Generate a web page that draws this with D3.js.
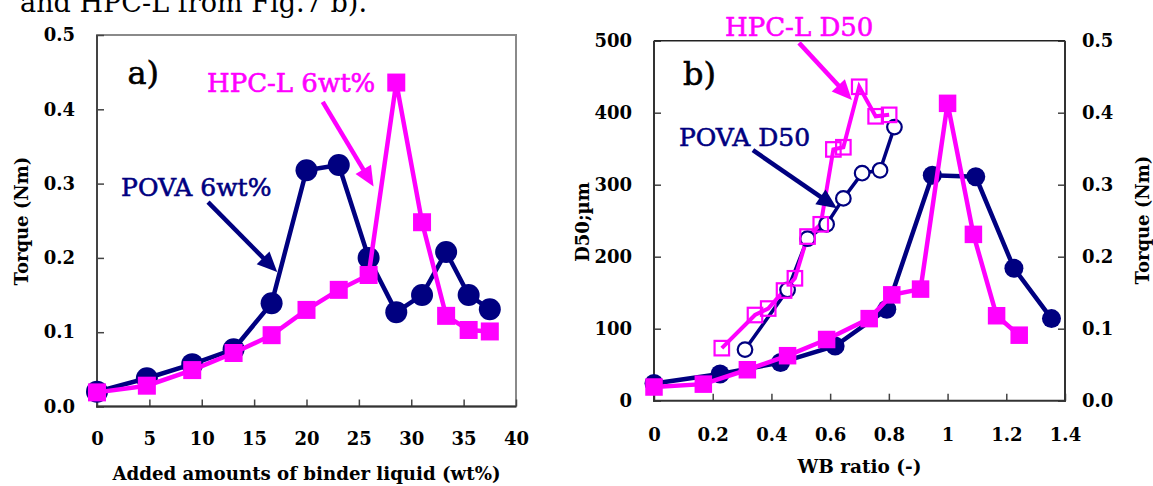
<!DOCTYPE html>
<html><head><meta charset="utf-8">
<script src="https://cdn.jsdelivr.net/npm/d3@7"></script>
<style>
html,body{margin:0;padding:0;background:#fff;}
svg{display:block;}
text{font-family:"DejaVu Serif",serif;}
</style></head>
<body>
<svg id="c" width="1153" height="486"></svg>
<script>
// ---------- data ----------
// Panel a: torque vs added amount of binder liquid
const aAdded = [0, 4.76, 9.09, 13.04, 16.67, 20, 23.08, 25.93, 28.57, 31.03, 33.33, 35.48, 37.5];
const aTorquePOVA = [0.020, 0.038, 0.057, 0.077, 0.139, 0.318, 0.325, 0.200, 0.127, 0.150, 0.208, 0.150, 0.131];
const aTorqueHPCL = [0.019, 0.028, 0.049, 0.072, 0.096, 0.130, 0.157, 0.177, 0.436, 0.248, 0.122, 0.103, 0.101];
const aXTicks = [0, 5, 10, 15, 20, 25, 30, 35, 40];
const aYTicks = [0, 0.1, 0.2, 0.3, 0.4, 0.5];

// Panel b: torque & D50 vs WB ratio
const bWbTorquePOVA = [0, 0.225, 0.431, 0.617, 0.793, 0.948, 1.096, 1.226, 1.354];
const bTorquePOVA = [0.024, 0.037, 0.053, 0.076, 0.127, 0.313, 0.311, 0.184, 0.114];
const bWbTorqueHPCL = [0, 0.168, 0.318, 0.455, 0.588, 0.733, 0.81, 0.908, 1.0, 1.088, 1.167, 1.244];
const bTorqueHPCL = [0.019, 0.023, 0.043, 0.0625, 0.085, 0.114, 0.147, 0.155, 0.413, 0.231, 0.118, 0.091];
const bWbD50POVA = [0.31, 0.455, 0.523, 0.588, 0.645, 0.709, 0.770, 0.819];
const bD50POVA = [71, 154, 225, 245, 281, 316, 320, 380];
const bWbD50HPCL = [0.231, 0.344, 0.389, 0.443, 0.480, 0.523, 0.568, 0.611, 0.645, 0.699, 0.755, 0.801];
const bD50HPCL = [73, 119, 128, 153, 170, 228, 245, 349, 352, 436, 395, 397];
const bXTicks = [0, 0.2, 0.4, 0.6, 0.8, 1, 1.2, 1.4];
const bYLTicks = [0, 100, 200, 300, 400, 500];
const bYRTicks = [0, 0.1, 0.2, 0.3, 0.4, 0.5];

const NAVY = "#000080", MAG = "#ff00ff";

const svg = d3.select("#c");

// cut-off caption line at the top (as in the source image)
svg.append("text").attr("x", 20).attr("y", 12).attr("font-size", 27)
  .attr("textLength", 347).attr("lengthAdjust", "spacingAndGlyphs")
  .text("and HPC-L from Fig.7 b).");

function arrow(g, x1, y1, x2, y2, color) {
  const dx = x2 - x1, dy = y2 - y1, len = Math.hypot(dx, dy);
  const ux = dx / len, uy = dy / len, L = 20, W = 9;
  const bx = x2 - ux * L, by = y2 - uy * L;
  g.append("line").attr("x1", x1).attr("y1", y1).attr("x2", bx + ux * 2).attr("y2", by + uy * 2)
    .attr("stroke", color).attr("stroke-width", 4.5);
  g.append("path").attr("d", `M${x2},${y2}L${bx - uy * W},${by + ux * W}L${bx + uy * W},${by - ux * W}Z`)
    .attr("fill", color);
}

function styleAxis(g, color) {
  g.select(".domain").remove();
  g.selectAll(".tick line").attr("stroke", color).attr("stroke-width", 1.5);
  g.selectAll(".tick text").attr("font-family", "DejaVu Serif").attr("font-weight", "bold")
    .attr("font-size", 18).attr("fill", "#000");
}

function label(g, x, y, size, color, txt) {
  return g.append("text").attr("x", x).attr("y", y).attr("font-size", size).attr("fill", color)
    .attr("stroke", color).attr("stroke-width", 0.6).text(txt);
}

// ================= Panel a =================
{
  const x = d3.scaleLinear().domain([0, 40]).range([97, 516]);
  const y = d3.scaleLinear().domain([0, 0.5]).range([406.5, 35]);
  const g = svg.append("g");

  g.append("rect").attr("x", x(0)).attr("y", y(0.5)).attr("width", x(40) - x(0)).attr("height", y(0) - y(0.5))
    .attr("fill", "none").attr("stroke", "#8a8a8a").attr("stroke-width", 2);

  const ya = g.append("g").attr("transform", `translate(${x(0)},0)`)
    .call(d3.axisLeft(y).tickValues(aYTicks).tickFormat(d3.format(".1f")).tickSize(-7).tickPadding(22));
  styleAxis(ya, "#444");
  const xa = g.append("g").attr("transform", `translate(0,${y(0)})`)
    .call(d3.axisBottom(x).tickValues(aXTicks).tickFormat(d3.format("d")).tickSize(-7).tickPadding(26));
  styleAxis(xa, "#444");
  g.append("line").attr("x1", x(0)).attr("x2", x(0)).attr("y1", y(0.5)).attr("y2", y(0) + 1)
    .attr("stroke", "#444").attr("stroke-width", 2);
  g.append("line").attr("x1", x(0) - 1).attr("x2", x(40)).attr("y1", y(0)).attr("y2", y(0))
    .attr("stroke", "#333").attr("stroke-width", 2);

  g.append("text").attr("transform", `translate(28,221) rotate(-90)`).attr("text-anchor", "middle")
    .attr("font-weight", "bold").attr("font-size", 18).text("Torque (Nm)");
  g.append("text").attr("x", (x(0) + x(40)) / 2).attr("y", 480).attr("text-anchor", "middle")
    .attr("font-weight", "bold").attr("font-size", 18.5)
    .attr("textLength", 388).attr("lengthAdjust", "spacingAndGlyphs")
    .text("Added amounts of binder liquid (wt%)");

  const line = d3.line().x(d => x(d[0])).y(d => y(d[1]));
  const pova = aAdded.map((v, i) => [v, aTorquePOVA[i]]);
  const hpcl = aAdded.map((v, i) => [v, aTorqueHPCL[i]]);

  g.append("path").datum(pova).attr("d", line).attr("fill", "none").attr("stroke", NAVY).attr("stroke-width", 4.5);
  g.selectAll(".pc").data(pova).join("circle").attr("cx", d => x(d[0])).attr("cy", d => y(d[1])).attr("r", 11).attr("fill", NAVY);
  g.append("path").datum(hpcl).attr("d", line).attr("fill", "none").attr("stroke", MAG).attr("stroke-width", 4.5);
  const S = 18;
  g.selectAll(".hs").data(hpcl).join("rect").attr("x", d => x(d[0]) - S / 2).attr("y", d => y(d[1]) - S / 2)
    .attr("width", S).attr("height", S).attr("fill", MAG);

  // annotations
  label(g, x(2.9), y(0.434), 32, "#000", "a)");
  label(g, x(10.5), y(0.423), 26, MAG, "HPC-L 6wt%");
  label(g, x(2.3), y(0.283), 25, NAVY, "POVA 6wt%");
  arrow(g, x(10.6), y(0.275), x(17.2), y(0.181), NAVY);
  arrow(g, x(21.55), y(0.410), x(26.4), y(0.296), MAG);
}

// ================= Panel b =================
{
  const x = d3.scaleLinear().domain([0, 1.4]).range([654, 1065]);
  const yL = d3.scaleLinear().domain([0, 500]).range([400.7, 40.7]);
  const yR = d3.scaleLinear().domain([0, 0.5]).range([400.7, 40.7]);
  const g = svg.append("g");

  const la = g.append("g").attr("transform", `translate(${x(0)},0)`)
    .call(d3.axisLeft(yL).tickValues(bYLTicks).tickFormat(d3.format("d")).tickSize(-7).tickPadding(22));
  styleAxis(la, "#444");
  const ra = g.append("g").attr("transform", `translate(${x(1.4)},0)`)
    .call(d3.axisRight(yR).tickValues(bYRTicks).tickFormat(d3.format(".1f")).tickSize(-7).tickPadding(17));
  styleAxis(ra, "#444");
  const xa = g.append("g").attr("transform", `translate(0,${yL(0)})`)
    .call(d3.axisBottom(x).tickValues(bXTicks).tickFormat(d => d === 0 || d === 1 ? d3.format("d")(d) : d3.format(".1f")(d)).tickSize(-7).tickPadding(28));
  styleAxis(xa, "#444");
  g.append("line").attr("x1", x(0)).attr("x2", x(1.4)).attr("y1", yL(500)).attr("y2", yL(500)).attr("stroke", "#222").attr("stroke-width", 1.5);
  g.append("line").attr("x1", x(0)).attr("x2", x(0)).attr("y1", yL(500)).attr("y2", yL(0) + 1).attr("stroke", "#333").attr("stroke-width", 2);
  g.append("line").attr("x1", x(1.4)).attr("x2", x(1.4)).attr("y1", yL(500)).attr("y2", yL(0) + 1).attr("stroke", "#333").attr("stroke-width", 2);
  g.append("line").attr("x1", x(0) - 1).attr("x2", x(1.4) + 1).attr("y1", yL(0)).attr("y2", yL(0)).attr("stroke", "#333").attr("stroke-width", 2);

  g.append("text").attr("transform", `translate(589,222) rotate(-90)`).attr("text-anchor", "middle")
    .attr("font-weight", "bold").attr("font-size", 18).text("D50;µm");
  g.append("text").attr("transform", `translate(1149,220) rotate(-90)`).attr("text-anchor", "middle")
    .attr("font-weight", "bold").attr("font-size", 18).text("Torque (Nm)");
  g.append("text").attr("x", (x(0) + x(1.4)) / 2).attr("y", 473).attr("text-anchor", "middle")
    .attr("font-weight", "bold").attr("font-size", 18.5).text("WB ratio (-)");

  const lineR = d3.line().x(d => x(d[0])).y(d => yR(d[1]));
  const lineL = d3.line().x(d => x(d[0])).y(d => yL(d[1]));
  const tP = bWbTorquePOVA.map((v, i) => [v, bTorquePOVA[i]]);
  const tH = bWbTorqueHPCL.map((v, i) => [v, bTorqueHPCL[i]]);
  const dP = bWbD50POVA.map((v, i) => [v, bD50POVA[i]]);
  const dH = bWbD50HPCL.map((v, i) => [v, bD50HPCL[i]]);

  g.append("path").datum(tP).attr("d", lineR).attr("fill", "none").attr("stroke", NAVY).attr("stroke-width", 4.5);
  g.selectAll(".tpc").data(tP).join("circle").attr("cx", d => x(d[0])).attr("cy", d => yR(d[1])).attr("r", 9.5).attr("fill", NAVY);
  g.append("path").datum(tH).attr("d", lineR).attr("fill", "none").attr("stroke", MAG).attr("stroke-width", 4.5);
  const S = 17.5;
  g.selectAll(".ths").data(tH).join("rect").attr("x", d => x(d[0]) - S / 2).attr("y", d => yR(d[1]) - S / 2)
    .attr("width", S).attr("height", S).attr("fill", MAG);

  g.append("path").datum(dP).attr("d", lineL).attr("fill", "none").attr("stroke", NAVY).attr("stroke-width", 3.5);
  g.append("path").datum(dH).attr("d", lineL).attr("fill", "none").attr("stroke", MAG).attr("stroke-width", 4);
  g.selectAll(".dpc").data(dP).join("circle").attr("cx", d => x(d[0])).attr("cy", d => yL(d[1])).attr("r", 7.3)
    .attr("fill", "#fff").attr("stroke", NAVY).attr("stroke-width", 2.2);
  const Q = 14.5;
  g.selectAll(".dhs").data(dH).join("rect").attr("x", d => x(d[0]) - Q / 2).attr("y", d => yL(d[1]) - Q / 2)
    .attr("width", Q).attr("height", Q).attr("fill", "none").attr("stroke", MAG).attr("stroke-width", 2.2);

  label(g, x(0.099), yL(438), 32, "#000", "b)");
  label(g, x(0.242), yL(506.5), 26, MAG, "HPC-L D50");
  label(g, x(0.085), yL(354), 25, NAVY, "POVA D50");
  arrow(g, x(0.494), yL(497), x(0.674), yL(417.6), MAG);
  arrow(g, x(0.337), yL(348), x(0.623), yL(267.4), NAVY);
}
</script>
</body></html>
